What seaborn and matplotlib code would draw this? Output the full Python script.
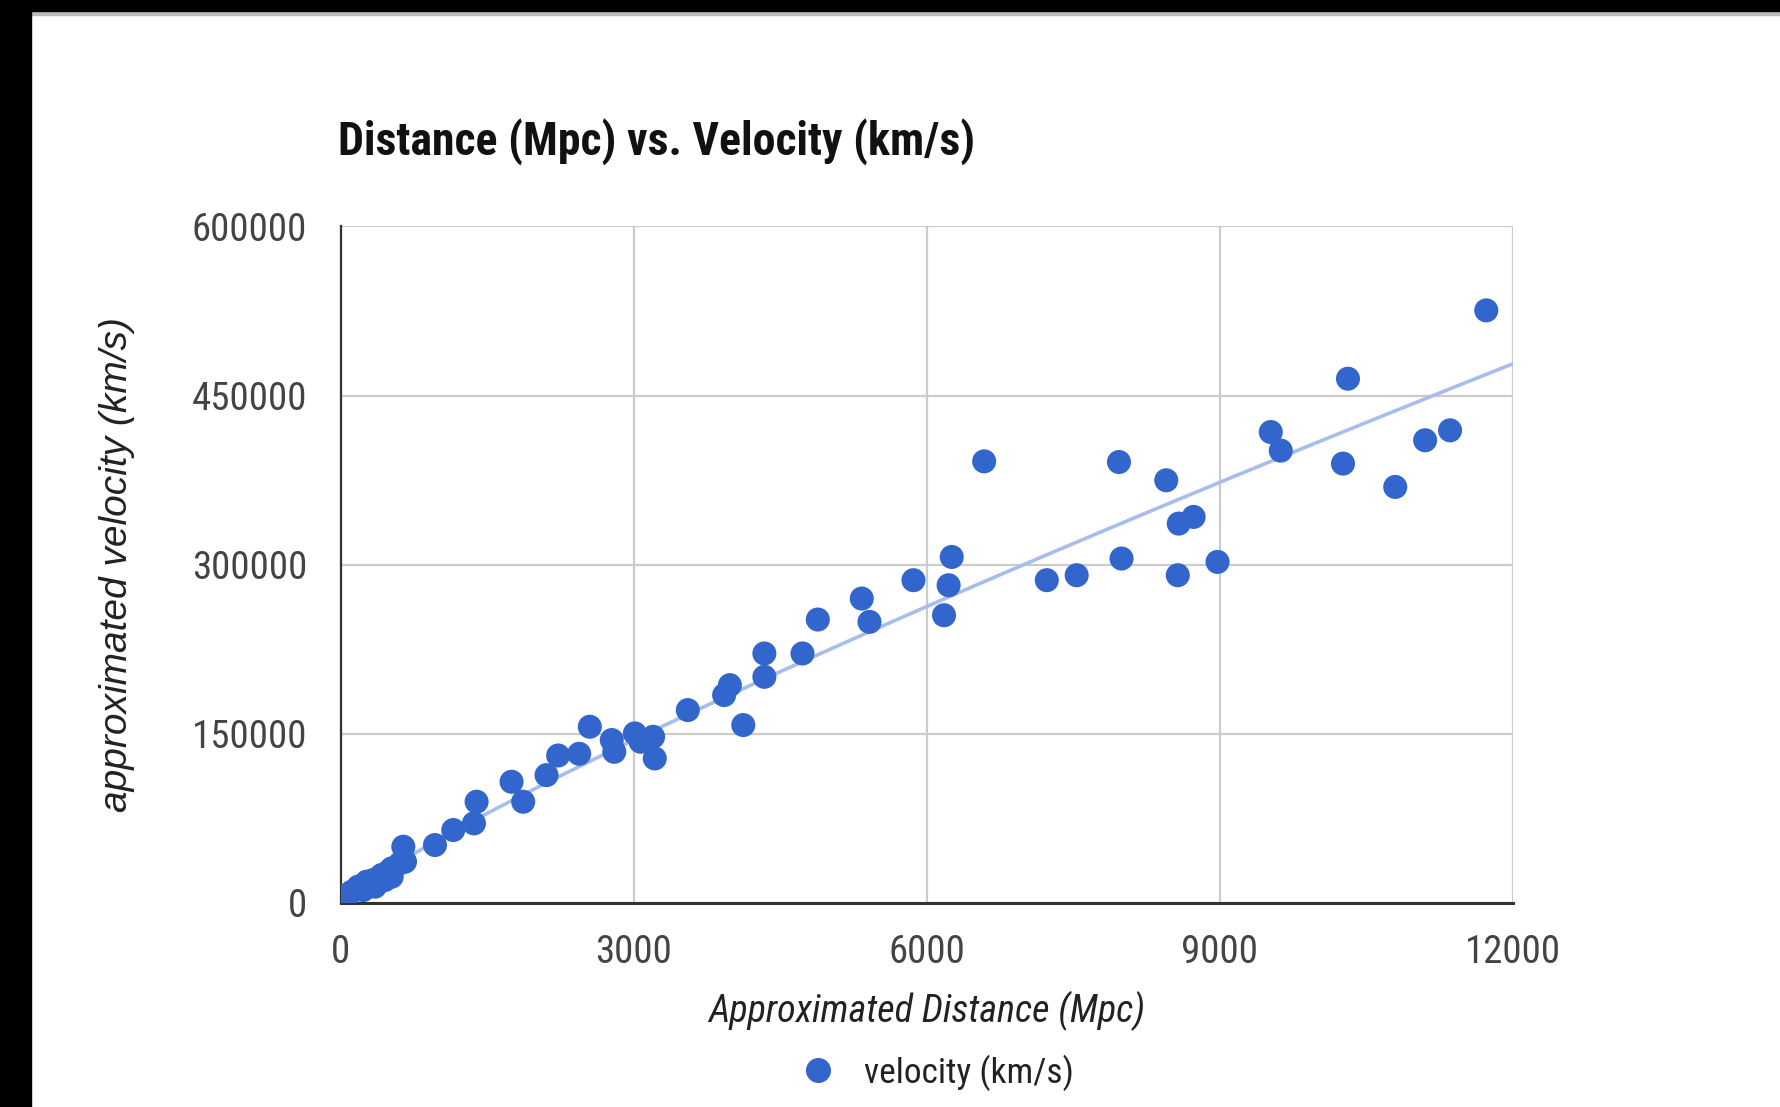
import numpy as np
import pandas as pd
import matplotlib
matplotlib.use('Agg')
import matplotlib.pyplot as plt
from matplotlib.patches import Rectangle
import seaborn as sns

# values
distance_mpc = [0, 44, 112, 180, 231, 266, 334, 351, 419, 453, 487, 522, 522, 607, 641, 658,
                965, 1152, 1364, 1391, 1749, 1868, 2107, 2226, 2441, 2550, 2775, 2800,
                3011, 3070, 3198, 3215, 3553, 3925, 3984, 4121, 4337, 4337, 4727, 4884,
                5334, 5413, 5863, 6176, 6223, 6255, 6587, 7228, 7534, 7967, 7993, 8451,
                8569, 8579, 8731, 8976, 9521, 9623, 10260, 10311, 10795, 11101, 11356, 11727]
velocity_kms = [1200, 5600, 10000, 14500, 11500, 18900, 20400, 14500, 24800, 20400, 27700, 30700,
                23300, 35200, 49900, 36600, 51400, 64700, 70600, 89800, 107500, 89800,
                113400, 130800, 132300, 156300, 144500, 134100, 150400, 143000, 147400,
                128200, 171100, 184400, 193200, 157800, 221300, 200600, 221300, 251400,
                270000, 249300, 286300, 255200, 281800, 306900, 391700, 286300, 290700,
                391100, 305500, 374900, 290700, 336500, 342400, 302500, 417700, 401200,
                389700, 465000, 369000, 410400, 419200, 525600]

x_ticks = [0, 3000, 6000, 9000, 12000]
y_ticks = [0, 150000, 300000, 450000, 600000]

df = pd.DataFrame({'distance': distance_mpc, 'velocity': velocity_kms})

# power trendline (like the sheet's trendline), fitted in log space
fit_df = df[df['distance'] > 0]
b, log_a = np.polyfit(np.log(fit_df['distance']), np.log(fit_df['velocity']), 1)
trend_x = np.linspace(1, x_ticks[-1], 400)
trend_y = np.exp(log_a) * trend_x ** b

sns.set_theme(style='white')
narrow = ['Liberation Sans Narrow', 'Roboto Condensed', 'Liberation Sans', 'DejaVu Sans']
plt.rcParams['font.family'] = narrow

fig = plt.figure(figsize=(17.81, 11.07), dpi=100)
ax = fig.add_axes([0.1913, 0.1843, 0.6582, 0.6111])

blue = '#3366cc'
sns.lineplot(x=trend_x, y=trend_y, ax=ax, color='#a9bdea', linewidth=2.6, zorder=2)
sns.scatterplot(data=df, x='distance', y='velocity', ax=ax, color=blue, s=300,
                edgecolor='none', zorder=3, legend=False)

ax.set_xlim(x_ticks[0], x_ticks[-1])
ax.set_ylim(y_ticks[0], y_ticks[-1])
ax.set_xticks(x_ticks)
ax.set_yticks(y_ticks)
ax.set_xticklabels([str(t) for t in x_ticks])
ax.set_yticklabels([str(t) for t in y_ticks])
ax.tick_params(axis='both', length=0, labelsize=28, labelcolor='#444444')
ax.tick_params(axis='y', pad=24)
ax.tick_params(axis='x', pad=22)

ax.grid(True, color='#cccccc', linewidth=1.6, zorder=0)
ax.set_axisbelow(True)
for side in ['top', 'right']:
    ax.spines[side].set_visible(False)
ax.spines['left'].set_color('#333333')
ax.spines['bottom'].set_color('#333333')
ax.spines['left'].set_linewidth(1.6)
ax.spines['bottom'].set_linewidth(2.2)

ax.set_xlabel('Approximated Distance (Mpc)', fontsize=27.5, style='italic',
              color='#222222', va='center')
ax.xaxis.set_label_coords(0.5, -0.16)
ax.set_ylabel('approximated velocity (km/s)', fontsize=28, style='italic',
              color='#222222', va='center', family=['Liberation Sans', 'DejaVu Sans'])
ax.yaxis.set_label_coords(-0.191, 0.5)

fig.text(338 / 1781, 1 - 142 / 1107, 'Distance (Mpc) vs. Velocity (km/s)',
         fontsize=33, fontweight='bold', color='#111111', ha='left', va='center')

handle = plt.Line2D([], [], marker='o', linestyle='none', color=blue, markersize=17)
fig.legend([handle], ['velocity (km/s)'], loc='center', bbox_to_anchor=(0.521, 0.031),
           frameon=False, fontsize=25.5, handletextpad=0.3, labelcolor='#222222')

# black screenshot frame at the left and top
fig.patches.append(Rectangle((0, 0), 31 / 1781, 1, transform=fig.transFigure,
                             color='black', zorder=10))
fig.patches.append(Rectangle((0, 1 - 11 / 1107), 1, 11 / 1107, transform=fig.transFigure,
                             color='black', zorder=10))
fig.patches.append(Rectangle((31 / 1781, 1 - 15 / 1107), 1, 4 / 1107, transform=fig.transFigure,
                             color='#bbbbbb', zorder=9))

fig.savefig('out.png', dpi=100)
